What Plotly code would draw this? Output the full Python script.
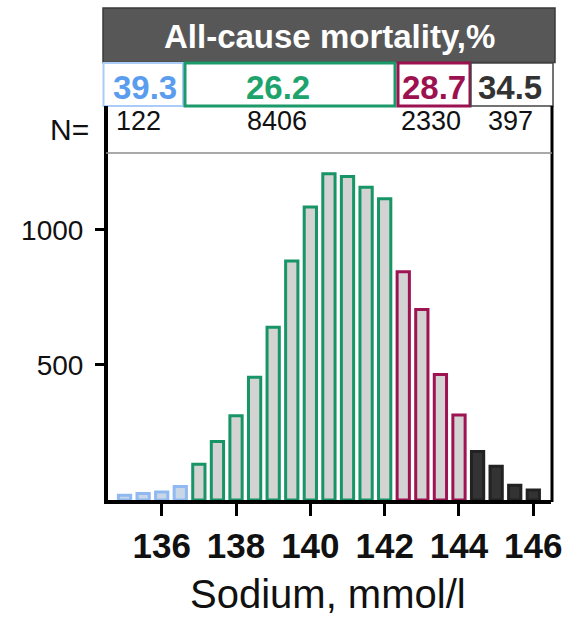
import plotly.graph_objects as go

# Sodium bins (mmol/l) and patient counts, split into the four sodium groups
sodium_low = [135.0, 135.5, 136.0, 136.5]
counts_low = [18, 24, 30, 50]

sodium_normal = [137.0, 137.5, 138.0, 138.5, 139.0, 139.5, 140.0, 140.5, 141.0, 141.5, 142.0]
counts_normal = [132, 217, 312, 455, 640, 885, 1085, 1208, 1198, 1158, 1116]

sodium_high = [142.5, 143.0, 143.5, 144.0]
counts_high = [845, 705, 465, 315]

sodium_vhigh = [144.5, 145.0, 145.5, 146.0]
counts_vhigh = [180, 125, 55, 37]

# All-cause mortality per group (%)
mortality_pct = ["39.3", "26.2", "28.7", "34.5"]

x_ticks = [136, 138, 140, 142, 144, 146]
y_ticks = [500, 1000]

FONT = "Liberation Sans, Arial, sans-serif"

W, H = 575, 619
L, R, T, B = 108, 24, 153, 119
PW, PH = W - L - R, H - T - B


def px(x):
    return (x - L) / PW


def py(y):
    return (H - B - y) / PH


groups = [
    (sodium_low, counts_low, "#c9d6e6", "#8fb9f0"),
    (sodium_normal, counts_normal, "#d3d3d3", "#179566"),
    (sodium_high, counts_high, "#d3d3d3", "#9e1352"),
    (sodium_vhigh, counts_vhigh, "#333333", "#222222"),
]

fig = go.Figure()
for xs, ys, fill, edge in groups:
    fig.add_trace(go.Bar(
        x=xs, y=ys, width=0.33,
        marker=dict(color=fill, line=dict(color=edge, width=3)),
        hoverinfo="x+y",
    ))

group_n = [sum(counts_low), sum(counts_normal), sum(counts_high), sum(counts_vhigh)]

shapes = []
# dark header band
shapes.append(dict(type="rect", xref="paper", yref="paper",
                   x0=px(103), x1=px(555), y0=py(62.5), y1=py(8),
                   fillcolor="#575757", line=dict(color="#3a3a3a", width=1.5),
                   layer="above"))
# mortality boxes per group
box_spec = [
    (103.5, 183, "#a9cdf7", 2),
    (185, 395, "#1d9a6a", 3),
    (398, 470, "#9c1150", 3),
    (471, 553, "#444444", 1.5),
]
for x0, x1, col, lw in box_spec:
    shapes.append(dict(type="rect", xref="paper", yref="paper",
                       x0=px(x0), x1=px(x1), y0=py(106), y1=py(63),
                       fillcolor="white", line=dict(color=col, width=lw),
                       layer="above"))
# frame around the N row and right side of the plot
shapes.append(dict(type="line", xref="paper", yref="paper",
                   x0=px(106), x1=px(106), y0=py(106), y1=py(153),
                   line=dict(color="black", width=4)))
shapes.append(dict(type="line", xref="paper", yref="paper",
                   x0=px(552), x1=px(552), y0=py(106), y1=py(502),
                   line=dict(color="black", width=3)))
shapes.append(dict(type="line", xref="paper", yref="paper",
                   x0=px(106), x1=px(552), y0=py(153), y1=py(153),
                   line=dict(color="#8c8c8c", width=1.5)))

annotations = []
annotations.append(dict(text="<b>All-cause mortality,%</b>", xref="paper", yref="paper",
                        x=px(329), y=py(36), showarrow=False,
                        xanchor="center", yanchor="middle",
                        font=dict(family=FONT, size=33, color="white")))

pct_x = [145, 278, 433.5, 510]
pct_col = ["#5a9cee", "#1fa36c", "#9c1150", "#333333"]
for xv, txt, col in zip(pct_x, mortality_pct, pct_col):
    annotations.append(dict(text=f"<b>{txt}</b>", xref="paper", yref="paper",
                            x=px(xv), y=py(87), showarrow=False,
                            xanchor="center", yanchor="middle",
                            font=dict(family=FONT, size=33, color=col)))

n_x = [138, 277, 431, 510]
for xv, n in zip(n_x, group_n):
    annotations.append(dict(text=str(n), xref="paper", yref="paper",
                            x=px(xv), y=py(121), showarrow=False,
                            xanchor="center", yanchor="middle",
                            font=dict(family=FONT, size=27, color="#111111")))

annotations.append(dict(text="N=", xref="paper", yref="paper",
                        x=px(69), y=py(130), showarrow=False,
                        xanchor="center", yanchor="middle",
                        font=dict(family=FONT, size=30, color="#111111")))

annotations.append(dict(text="Sodium, mmol/l", xref="paper", yref="paper",
                        x=px(327.5), y=py(594), showarrow=False,
                        xanchor="center", yanchor="middle",
                        font=dict(family=FONT, size=40, color="#111111")))

fig.update_layout(
    width=W, height=H,
    margin=dict(l=L, r=R, t=T, b=B, pad=0),
    paper_bgcolor="white", plot_bgcolor="white",
    showlegend=False, barmode="overlay",
    shapes=shapes, annotations=annotations,
    xaxis=dict(range=[134.555, 146.476], tickvals=x_ticks,
               ticks="outside", ticklen=12, tickwidth=3, tickcolor="black",
               showline=True, linewidth=4, linecolor="black",
               showgrid=False, zeroline=False, ticklabelstandoff=0,
               tickfont=dict(family=FONT, size=35, color="#111111", weight="bold")),
    yaxis=dict(range=[0, 1285], tickvals=y_ticks,
               ticks="outside", ticklen=9, tickwidth=3, tickcolor="black",
               showline=True, linewidth=4, linecolor="black",
               showgrid=False, zeroline=False, ticklabelstandoff=6,
               tickfont=dict(family=FONT, size=28, color="#111111")),
)

fig.write_html("out.html")
